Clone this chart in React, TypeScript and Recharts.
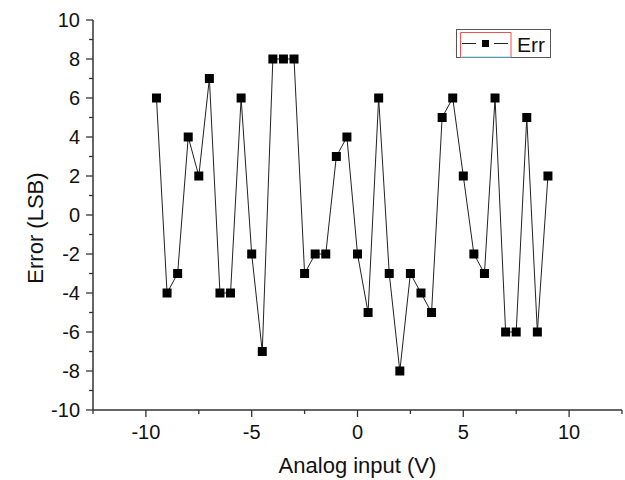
import React from 'react';
import { LineChart, Line, XAxis, YAxis, Legend } from 'recharts';

const inputV = [-9.5, -9, -8.5, -8, -7.5, -7, -6.5, -6, -5.5, -5, -4.5, -4, -3.5, -3, -2.5, -2, -1.5, -1, -0.5, 0, 0.5, 1, 1.5, 2, 2.5, 3, 3.5, 4, 4.5, 5, 5.5, 6, 6.5, 7, 7.5, 8, 8.5, 9];
const errLSB = [6, -4, -3, 4, 2, 7, -4, -4, 6, -2, -7, 8, 8, 8, -3, -2, -2, 3, 4, -2, -5, 6, -3, -8, -3, -4, -5, 5, 6, 2, -2, -3, 6, -6, -6, 5, -6, 2];
const xTicks = [-12.5, -10, -7.5, -5, -2.5, 0, 2.5, 5, 7.5, 10, 12.5];
const xLabeled = [-10, -5, 0, 5, 10];
const yTicks = [-10, -9, -8, -7, -6, -5, -4, -3, -2, -1, 0, 1, 2, 3, 4, 5, 6, 7, 8, 9, 10];
const seriesName = 'Err';

const data = inputV.map((x, i) => ({ x, err: errLSB[i] }));

const FONT = '"Liberation Sans", Arial, sans-serif';
const AXIS_COLOR = '#333';
const TICK_FONT = 20;
const TITLE_FONT = 22;

const YTick = (props: any) => {
  const { x, y, payload } = props;
  const major = payload.value % 2 === 0;
  const axisX = x + 7;
  return (
    <g>
      <line x1={axisX - (major ? 7 : 4)} x2={axisX} y1={y} y2={y} stroke={AXIS_COLOR} strokeWidth={1.3} />
      {major && (
        <text x={axisX - 13} y={y} textAnchor="end" dominantBaseline="central" fontSize={TICK_FONT} fontFamily={FONT} fill="#111">
          {payload.value}
        </text>
      )}
    </g>
  );
};

const XTick = (props: any) => {
  const { x, y, payload } = props;
  const major = xLabeled.includes(payload.value);
  const axisY = y - 7;
  return (
    <g>
      <line x1={x} x2={x} y1={axisY} y2={axisY + (major ? 7 : 4)} stroke={AXIS_COLOR} strokeWidth={1.3} />
      {major && (
        <text x={x} y={axisY + 22} textAnchor="middle" dominantBaseline="central" fontSize={TICK_FONT} fontFamily={FONT} fill="#111">
          {payload.value}
        </text>
      )}
    </g>
  );
};

const SquareDot = (props: any) => {
  const { cx, cy } = props;
  if (cx == null || cy == null) return null;
  return <rect x={cx - 4.5} y={cy - 4.5} width={9} height={9} fill="#000" />;
};

const LegendBox = (props: any) => {
  const name = props.payload && props.payload[0] ? props.payload[0].value : seriesName;
  return (
    <svg width={96} height={30} style={{ display: 'block' }}>
      <rect x={0.5} y={0.5} width={94} height={28} fill="#fff" stroke="#555" strokeWidth={1} />
      <line x1={4.5} y1={3.5} x2={4.5} y2={28} stroke="#f05050" strokeWidth={1} />
      <line x1={4.5} y1={3.5} x2={55} y2={3.5} stroke="#f05050" strokeWidth={1} />
      <line x1={55} y1={3.5} x2={55} y2={28} stroke="#f05050" strokeWidth={1} />
      <line x1={4.5} y1={28} x2={55} y2={28} stroke="#7fd0f0" strokeWidth={1} />
      <line x1={6} y1={14.5} x2={20} y2={14.5} stroke="#222" strokeWidth={1} />
      <line x1={38} y1={14.5} x2={52} y2={14.5} stroke="#222" strokeWidth={1} />
      <rect x={26} y={11} width={7} height={7} fill="#000" />
      <text x={61} y={23} fontSize={21} fontFamily={FONT} fill="#111">{name}</text>
    </svg>
  );
};

const YLabel = (props: any) => {
  const vb = props.viewBox || { x: 0, y: 20, width: 93, height: 390 };
  const cx = vb.x + 43;
  const cy = vb.y + vb.height / 2 + 13;
  return (
    <text x={cx} y={cy} transform={`rotate(-90 ${cx} ${cy})`} textAnchor="middle" fontSize={TITLE_FONT} fontFamily={FONT} fill="#111">
      Error (LSB)
    </text>
  );
};

export default function App() {
  return (
    <div style={{ position: 'absolute', left: 0, top: 0, background: '#fff' }}>
      <LineChart width={625} height={480} data={data} margin={{ top: 20, right: 3, left: 0, bottom: 0 }}>
        <XAxis
          type="number"
          dataKey="x"
          domain={[-12.5, 12.5]}
          ticks={xTicks}
          interval={0}
          allowDataOverflow
          height={70}
          tickSize={7}
          tickMargin={0}
          tickLine={false}
          tick={<XTick />}
          axisLine={{ stroke: AXIS_COLOR, strokeWidth: 1.5 }}
          label={{ value: 'Analog input (V)', position: 'insideBottom', offset: 7, fontSize: TITLE_FONT, fontFamily: FONT, fill: '#111' }}
        />
        <YAxis
          type="number"
          domain={[-10, 10]}
          ticks={yTicks}
          interval={0}
          allowDataOverflow
          width={93}
          tickSize={7}
          tickMargin={0}
          tickLine={false}
          tick={<YTick />}
          axisLine={{ stroke: AXIS_COLOR, strokeWidth: 1.5 }}
          label={<YLabel />}
        />
        <Legend
          layout="horizontal"
          verticalAlign="middle"
          align="center"
          content={<LegendBox />}
          wrapperStyle={{ left: 456, top: 29, width: 96, height: 30 }}
        />
        <Line
          type="linear"
          dataKey="err"
          name={seriesName}
          stroke="#222"
          strokeWidth={1}
          dot={<SquareDot />}
          activeDot={false}
          isAnimationActive={false}
        />
      </LineChart>
    </div>
  );
}
